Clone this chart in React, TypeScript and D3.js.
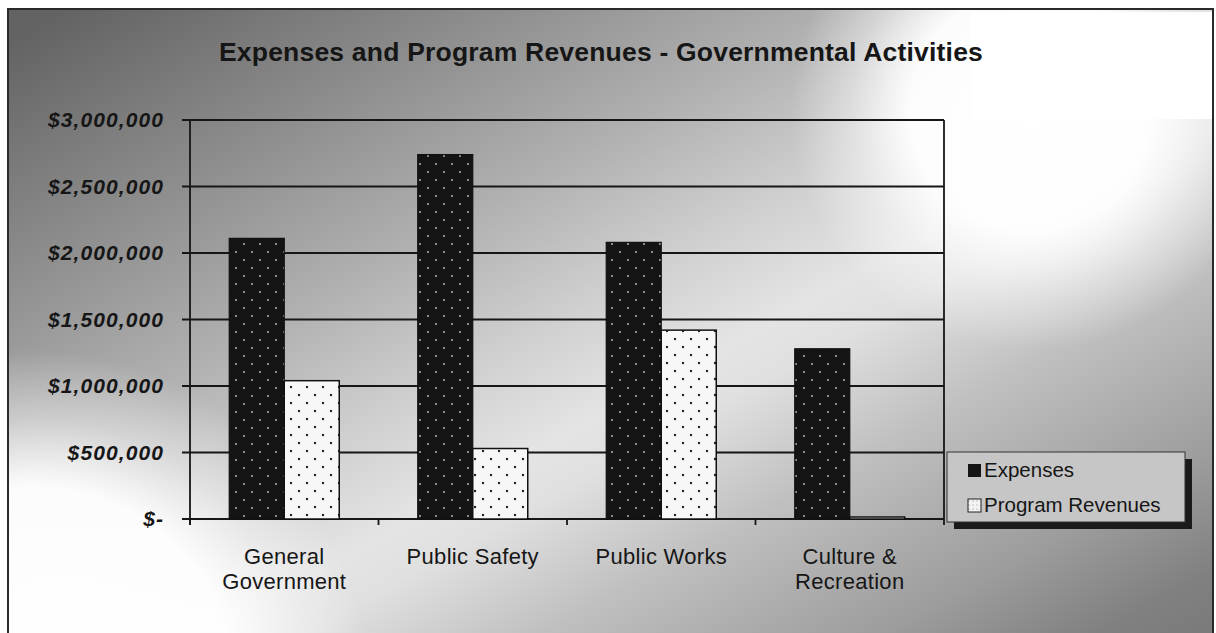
import React from "react";
import * as d3 from "d3";

const categories = ["General Government", "Public Safety", "Public Works", "Culture & Recreation"];
const categoryLines = [["General", "Government"], ["Public Safety"], ["Public Works"], ["Culture &", "Recreation"]];
const expenses = [2110000, 2740000, 2080000, 1280000];
const revenues = [1040000, 530000, 1420000, 15000];
const yTicks = [0, 500000, 1000000, 1500000, 2000000, 2500000, 3000000];
const seriesNames = ["Expenses", "Program Revenues"];

const W = 1216;
const H = 633;
const plot = { left: 190, right: 944, top: 120, bottom: 519 };

export default function App() {
  const x0 = d3.scaleBand<string>().domain(categories).range([plot.left, plot.right]).paddingInner(0).paddingOuter(0);
  const bw = 55;
  const y = d3.scaleLinear().domain([0, 3000000]).range([plot.bottom, plot.top]);
  const fmt = (v: number) => (v === 0 ? "$-" : "$" + d3.format(",")(v));
  const font = "Arial, 'Liberation Sans', sans-serif";
  const ink = "#161616";

  return (
    <svg width={W} height={H} style={{ position: "absolute", left: 0, top: 0 }} fontFamily={font}>
      <defs>
        <linearGradient id="bg" gradientUnits="userSpaceOnUse" x1={363} y1={-221} x2={941} y2={830}>
          <stop offset="0.05" stopColor="#636363" />
          <stop offset="0.2" stopColor="#888888" />
          <stop offset="0.36" stopColor="#b0b0b0" />
          <stop offset="0.475" stopColor="#d0d0d0" />
          <stop offset="0.56" stopColor="#e4e4e4" />
          <stop offset="0.6" stopColor="#e0e0e0" />
          <stop offset="0.695" stopColor="#c0c0c0" />
          <stop offset="0.835" stopColor="#9c9c9c" />
          <stop offset="0.92" stopColor="#808080" />
          <stop offset="1" stopColor="#767676" />
        </linearGradient>
        <radialGradient id="wBL" gradientUnits="userSpaceOnUse" cx={30} cy={690} r={340}>
          <stop offset="0" stopColor="#fff" stopOpacity={1} />
          <stop offset="0.6" stopColor="#fff" stopOpacity={0.95} />
          <stop offset="0.8" stopColor="#fff" stopOpacity={0.4} />
          <stop offset="1" stopColor="#fff" stopOpacity={0} />
        </radialGradient>
        <radialGradient id="wTR" gradientUnits="userSpaceOnUse" cx={1030} cy={110} r={240}>
          <stop offset="0" stopColor="#fff" stopOpacity={1} />
          <stop offset="0.5" stopColor="#fff" stopOpacity={0.95} />
          <stop offset="0.75" stopColor="#fff" stopOpacity={0.4} />
          <stop offset="1" stopColor="#fff" stopOpacity={0} />
        </radialGradient>
        <pattern id="darkDots" width="16" height="16" patternUnits="userSpaceOnUse">
          <rect width="16" height="16" fill="#141414" />
          <circle cx="4" cy="4" r="0.9" fill="#c8c8c8" />
          <circle cx="12" cy="12" r="0.9" fill="#c8c8c8" />
        </pattern>
        <pattern id="lightDots" width="16" height="16" patternUnits="userSpaceOnUse">
          <rect width="16" height="16" fill="#f7f7f7" />
          <circle cx="3" cy="3" r="1.2" fill="#222" />
          <circle cx="11" cy="11" r="1.2" fill="#222" />
        </pattern>
        <pattern id="legLight" width="4" height="4" patternUnits="userSpaceOnUse">
          <rect width="4" height="4" fill="#f4f4f4" />
          <circle cx="1" cy="1" r="0.6" fill="#888" />
        </pattern>
      </defs>

      <rect x={0} y={0} width={W} height={H} fill="#ffffff" />
      <rect x={8} y={9} width={1205} height={630} fill="url(#bg)" />
      <rect x={8} y={9} width={1205} height={630} fill="url(#wBL)" />
      <rect x={8} y={9} width={1205} height={630} fill="url(#wTR)" />
      <rect x={971} y={12} width={241} height={107} fill="#ffffff" />
      <rect x={8} y={9} width={1205} height={630} fill="none" stroke="#2a2a2a" strokeWidth={2} />

      <text x={601} y={61} textAnchor="middle" fontSize={26.5} fontWeight="bold" fill={ink} letterSpacing={0.2}>
        Expenses and Program Revenues - Governmental Activities
      </text>

      {yTicks.map((t) => (
        <g key={t}>
          <line x1={plot.left - 8} x2={plot.right} y1={y(t)} y2={y(t)} stroke={ink} strokeWidth={1.8} />
          <text x={164} y={y(t) + 7} textAnchor="end" fontSize={21} fontWeight="bold" fontStyle="italic" fill={ink} letterSpacing={1.1}>
            {fmt(t)}
          </text>
        </g>
      ))}
      <line x1={plot.left} x2={plot.left} y1={plot.top} y2={plot.bottom + 6} stroke={ink} strokeWidth={1.8} />
      <line x1={plot.right} x2={plot.right} y1={plot.top} y2={plot.bottom + 6} stroke={ink} strokeWidth={1.8} />
      {categories.map((c) => (
        <line key={c} x1={x0(c)!} x2={x0(c)!} y1={plot.bottom} y2={plot.bottom + 6} stroke={ink} strokeWidth={1.8} />
      ))}

      {categories.map((c, i) => {
        const cx = x0(c)! + x0.bandwidth() / 2;
        return (
          <g key={c}>
            <rect x={cx - bw} y={y(expenses[i])} width={bw} height={y(0) - y(expenses[i])} fill="url(#darkDots)" stroke="#111" strokeWidth={1.2} />
            <rect x={cx} y={y(revenues[i])} width={bw} height={y(0) - y(revenues[i])} fill="url(#lightDots)" stroke="#111" strokeWidth={1.5} />
            {categoryLines[i].map((ln, k) => (
              <text key={k} x={cx} y={564 + k * 25} textAnchor="middle" fontSize={22} letterSpacing={0.3} fill={ink}>
                {ln}
              </text>
            ))}
          </g>
        );
      })}

      <g>
        <rect x={954} y={459} width={238} height={70} fill="#1a1a1a" />
        <rect x={947} y={452} width={238} height={70} fill="#c6c6c6" stroke="#333" strokeWidth={1} />
        <rect x={968} y={464} width={13} height={13} fill="#151515" />
        <text x={984} y={477} fontSize={20.5} fill={ink}>{seriesNames[0]}</text>
        <rect x={968} y={499} width={13} height={13} fill="url(#legLight)" stroke="#222" strokeWidth={1} />
        <text x={984} y={512} fontSize={20.5} fill={ink}>{seriesNames[1]}</text>
      </g>
    </svg>
  );
}
